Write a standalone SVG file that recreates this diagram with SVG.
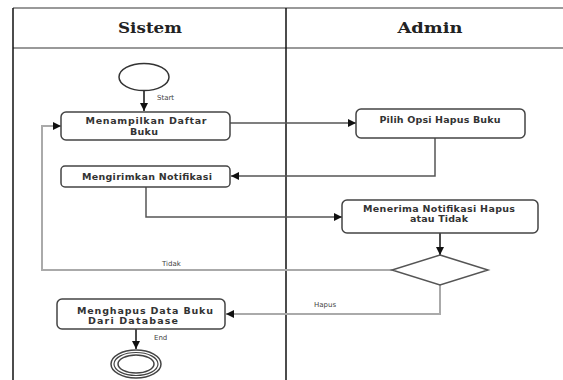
<svg xmlns="http://www.w3.org/2000/svg" width="563" height="380" viewBox="0 0 563 380">
  <defs>
    <marker id="arrow" viewBox="0 0 10 10" refX="10" refY="5" markerWidth="9" markerHeight="8" markerUnits="userSpaceOnUse" orient="auto">
      <path d="M0,0 L10,5 L0,10 z" fill="#111"/>
    </marker>
    <style>
      .lane { stroke: #111; stroke-width: 1.5; fill: none; }
      .head { stroke: #999; stroke-width: 2; fill: none; }
      .title { font-family: "DejaVu Serif", "Liberation Serif", serif; font-weight: bold; font-size: 14.5px; fill: #222; text-anchor: middle; }
      .box { fill: #fff; stroke: #444; stroke-width: 1.5; }
      .lbl { font-family: "DejaVu Sans", "Liberation Sans", sans-serif; font-weight: bold; font-size: 9.5px; fill: #333; text-anchor: middle; }
      .small { font-family: "DejaVu Sans", "Liberation Sans", sans-serif; font-size: 7px; fill: #444; }
      .edge { fill: none; stroke: #555; stroke-width: 1.5; }
      .edge-light { fill: none; stroke: #aaa; stroke-width: 2; }
      .edge-dark { fill: none; stroke: #111; stroke-width: 1.5; }
    </style>
  </defs>

  <rect width="563" height="380" fill="#fff"/>

  <!-- swimlane frame -->
  <g id="lanes">
    <line class="head" x1="13" y1="8" x2="563" y2="8"/>
    <line class="head" x1="13" y1="48" x2="563" y2="48"/>
    <line class="lane" x1="13" y1="8" x2="13" y2="380"/>
    <line class="lane" x1="286" y1="8" x2="286" y2="380"/>
    <text class="title" x="150" y="33" textLength="64" lengthAdjust="spacingAndGlyphs">Sistem</text>
    <text class="title" x="430" y="33" textLength="65" lengthAdjust="spacingAndGlyphs">Admin</text>
  </g>

  <!-- connectors -->
  <g id="connectors">
    <line class="edge-dark" x1="144" y1="90" x2="144" y2="111" marker-end="url(#arrow)"/>
    <text class="small" x="157" y="100">Start</text>
    <polyline class="edge" points="230,123 356,123" marker-end="url(#arrow)"/>
    <polyline class="edge" points="435,138 435,176 231,176" marker-end="url(#arrow)"/>
    <polyline class="edge" points="146,187 146,217 342,217" marker-end="url(#arrow)"/>
    <line class="edge-dark" x1="440" y1="233" x2="440" y2="255" marker-end="url(#arrow)"/>
    <polyline class="edge-light" points="392,270 42,270 42,126 61,126" marker-end="url(#arrow)"/>
    <text class="small" x="162" y="266">Tidak</text>
    <polyline class="edge-light" points="440,285 440,314 226,314" marker-end="url(#arrow)"/>
    <text class="small" x="314" y="307">Hapus</text>
    <line class="edge-dark" x1="136" y1="329" x2="136" y2="349" marker-end="url(#arrow)"/>
    <text class="small" x="154" y="340">End</text>
  </g>

  <g id="start">
    <ellipse cx="144" cy="77" rx="25" ry="13.5" fill="#fff" stroke="#333" stroke-width="1.5"/>
  </g>

  <g id="tampil-daftar">
    <rect class="box" x="61" y="112" width="169" height="28" rx="5"/>
    <text class="lbl" x="146" y="124" textLength="121" lengthAdjust="spacing">Menampilkan Daftar</text>
    <text class="lbl" x="144" y="134.5" textLength="28" lengthAdjust="spacing">Buku</text>
  </g>

  <g id="kirim-notifikasi">
    <rect class="box" x="61" y="166" width="169" height="21" rx="4"/>
    <text class="lbl" x="147" y="179.5" textLength="130" lengthAdjust="spacing">Mengirimkan Notifikasi</text>
  </g>

  <g id="pilih-opsi">
    <rect class="box" x="356" y="109" width="169" height="29" rx="5"/>
    <text class="lbl" x="440" y="122.5" textLength="121" lengthAdjust="spacing">Pilih Opsi Hapus Buku</text>
  </g>

  <g id="terima-notifikasi">
    <rect class="box" x="342" y="200" width="196" height="33" rx="5"/>
    <text class="lbl" x="439" y="212" textLength="152" lengthAdjust="spacing">Menerima Notifikasi Hapus</text>
    <text class="lbl" x="439" y="222" textLength="58" lengthAdjust="spacing">atau Tidak</text>
  </g>

  <g id="keputusan">
    <polygon points="440,255 488,270 440,285 392,270" fill="#fff" stroke="#555" stroke-width="1.5"/>
  </g>

  <g id="hapus-data">
    <rect class="box" x="57" y="299" width="168" height="30" rx="5"/>
    <text class="lbl" x="145" y="314" textLength="136" lengthAdjust="spacing">Menghapus Data Buku</text>
    <text class="lbl" x="133" y="324" textLength="90" lengthAdjust="spacing">Dari Database</text>
  </g>

  <g id="end">
    <ellipse cx="136" cy="364" rx="25" ry="14" fill="#fff" stroke="#444" stroke-width="1.5"/>
    <ellipse cx="136" cy="364" rx="22" ry="11.5" fill="none" stroke="#444" stroke-width="1.2"/>
    <ellipse cx="136" cy="364" rx="18" ry="9" fill="none" stroke="#444" stroke-width="1.5"/>
  </g>
</svg>
